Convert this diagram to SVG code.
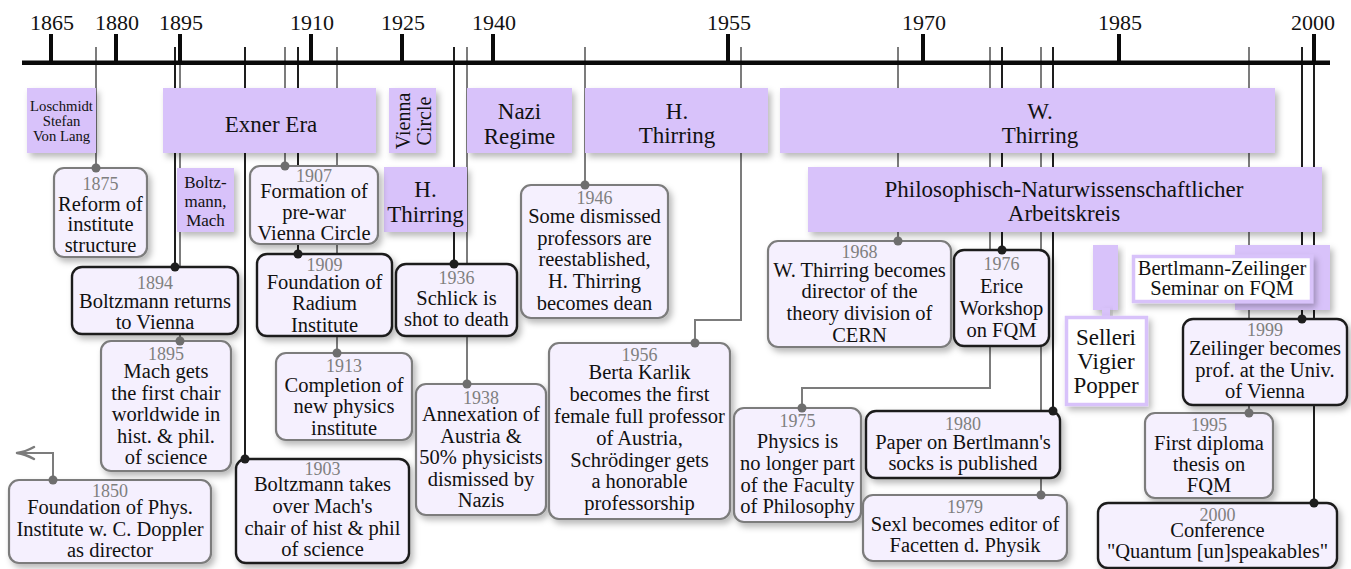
<svg xmlns="http://www.w3.org/2000/svg" width="1351" height="569" viewBox="0 0 1351 569">
<defs>
<filter id="sh" x="-30%" y="-30%" width="160%" height="160%">
<feDropShadow dx="3" dy="4" stdDeviation="3" flood-color="#000" flood-opacity="0.28"/>
</filter>
<marker id="arr" markerUnits="userSpaceOnUse" markerWidth="22" markerHeight="18" viewBox="-19 -9 22 18" refX="0" refY="0" orient="auto">
<path d="M -17 -6 Q -8 -1 0 0 Q -8 1 -17 6" fill="none" stroke="#7c7c7c" stroke-width="2.5" stroke-linecap="round" stroke-linejoin="round"/>
</marker>
<style>
.bar{fill:#d8c2fa;filter:url(#sh)}
.wb{fill:#ffffff;stroke:#d8c2fa;stroke-width:3.5;filter:url(#sh)}
.ev{fill:#f5f0fe;filter:url(#sh)}
.eg{stroke:#7c7c7c;stroke-width:2.2}
.ek{stroke:#1e1e1e;stroke-width:2.4}
text{font-family:"Liberation Serif",serif;text-anchor:middle;fill:#111}
.yr{font-size:18px;fill:#7f7f7f}
.tx{font-size:20.5px}
.bt{font-size:23px}
.vc{font-size:20px}
.sm{font-size:14.7px}
.bm{font-size:17px}
.ax{font-size:22px}
.lg{stroke:#7c7c7c;stroke-width:2;fill:none}
.lk{stroke:#1e1e1e;stroke-width:2;fill:none}
.dg{fill:#6e6e6e}
.dk{fill:#1e1e1e}
.axis{fill:#0a0a0a}
</style>
</defs>
<rect x="0" y="0" width="1351" height="569" fill="#ffffff"/>

<g id="connectors">
<path class="lg" d="M53 480V453H17" marker-end="url(#arr)"/>
<path class="lg" d="M96 47V168"/>
<path class="lk" d="M175 47V267"/>
<path class="lg" d="M180 47V341"/>
<path class="lk" d="M245 47V459"/>
<path class="lg" d="M285 47V166"/>
<path class="lk" d="M298 47V254"/>
<path class="lg" d="M337 47V353"/>
<path class="lk" d="M454 47V264"/>
<path class="lg" d="M467 47V384"/>
<path class="lg" d="M585 47V185"/>
<path class="lg" d="M741 47V320H695V343"/>
<path class="lg" d="M898 47V241"/>
<path class="lg" d="M990 47V388H802V408"/>
<path class="lk" d="M1002 47V250"/>
<path class="lg" d="M1041 47V495"/>
<path class="lk" d="M1053 47V411"/>
<path class="lg" d="M1249 47V413"/>
<path class="lk" d="M1302 47V319"/>
<path class="lk" d="M1314 47V503"/>
</g>

<g id="timeline">
<rect class="axis" x="22" y="60.5" width="1308" height="4.5"/>
<rect class="axis" x="49" y="34" width="4" height="28"/>
<rect class="axis" x="114" y="34" width="4" height="28"/>
<rect class="axis" x="178" y="34" width="4" height="28"/>
<rect class="axis" x="309" y="34" width="4" height="28"/>
<rect class="axis" x="400" y="34" width="4" height="28"/>
<rect class="axis" x="491" y="34" width="4" height="28"/>
<rect class="axis" x="726" y="34" width="4" height="28"/>
<rect class="axis" x="921" y="34" width="4" height="28"/>
<rect class="axis" x="1117" y="34" width="4" height="28"/>
<rect class="axis" x="1312" y="34" width="4" height="28"/>
<text class="ax" x="52" y="30">1865</text>
<text class="ax" x="117" y="30">1880</text>
<text class="ax" x="181" y="30">1895</text>
<text class="ax" x="312" y="30">1910</text>
<text class="ax" x="403" y="30">1925</text>
<text class="ax" x="494" y="30">1940</text>
<text class="ax" x="729" y="30">1955</text>
<text class="ax" x="924" y="30">1970</text>
<text class="ax" x="1120" y="30">1985</text>
<text class="ax" x="1313" y="30">2000</text>
</g>

<g id="period-loschmidt"><rect class="bar" x="27" y="88" width="69" height="65"/>
<text class="sm"><tspan x="61.5" y="111">Loschmidt</tspan><tspan x="61.5" y="126">Stefan</tspan><tspan x="61.5" y="141">Von Lang</tspan></text></g>
<g id="period-exner"><rect class="bar" x="163" y="88" width="213" height="65"/>
<text class="bt" x="271" y="132">Exner Era</text></g>
<g id="period-vienna-circle"><rect class="bar" x="389" y="88" width="47" height="65"/>
<text class="vc" transform="translate(410,121) rotate(-90)"><tspan x="0" y="0">Vienna</tspan><tspan x="0" y="21">Circle</tspan></text></g>
<g id="period-nazi"><rect class="bar" x="467" y="88" width="105" height="65"/>
<text class="bt"><tspan x="519.5" y="119.3">Nazi</tspan><tspan x="519.5" y="143.5">Regime</tspan></text></g>
<g id="period-h-thirring"><rect class="bar" x="585" y="88" width="183" height="65"/>
<text class="bt"><tspan x="677" y="119">H.</tspan><tspan x="677" y="142.5">Thirring</tspan></text></g>
<g id="period-w-thirring"><rect class="bar" x="780" y="88" width="495" height="65"/>
<text class="bt"><tspan x="1040" y="119">W.</tspan><tspan x="1040" y="142.5">Thirring</tspan></text></g>
<g id="period-arbeitskreis"><rect class="bar" x="808" y="167" width="514" height="65"/>
<text class="bt"><tspan x="1064" y="197">Philosophisch-Naturwissenschaftlicher</tspan><tspan x="1064" y="220.5">Arbeitskreis</tspan></text></g>
<g id="period-boltzmann-mach"><rect class="bar" x="177" y="168" width="57" height="64"/>
<text class="bm"><tspan x="205.5" y="188">Boltz-</tspan><tspan x="205.5" y="207">mann,</tspan><tspan x="205.5" y="226">Mach</tspan></text></g>
<g id="period-h-thirring-2"><rect class="bar" x="384" y="167" width="83" height="65"/>
<text class="bt"><tspan x="425.5" y="197">H.</tspan><tspan x="425.5" y="221.5">Thirring</tspan></text></g>
<g id="period-selleri"><rect class="bar" x="1093" y="245" width="25" height="65"/><rect class="bar" x="1102" y="308" width="8" height="10"/>
<rect class="wb" x="1066.5" y="317.5" width="80" height="87"/>
<text class="bt"><tspan x="1106" y="345">Selleri</tspan><tspan x="1106" y="368.5">Vigier</tspan><tspan x="1106" y="393">Popper</tspan></text></g>
<g id="period-bertlmann-zeilinger"><rect class="bar" x="1235" y="245" width="95" height="65"/>
<rect class="wb" x="1133.5" y="256.5" width="178" height="45"/>
<text style="font-size:20.5px"><tspan x="1222" y="275">Bertlmann-Zeilinger</tspan><tspan x="1222" y="295">Seminar on FQM</tspan></text></g>

<g id="ev1850"><rect class="ev eg" x="9" y="480" width="202" height="83" rx="10"/>
<text class="yr" x="110" y="497">1850</text>
<text class="tx"><tspan x="110" y="514">Foundation of Phys.</tspan><tspan x="110" y="536">Institute w. C. Doppler</tspan><tspan x="110" y="557">as director</tspan></text></g>
<g id="ev1875"><rect class="ev eg" x="54" y="168" width="93" height="89" rx="10"/>
<text class="yr" x="100.5" y="190">1875</text>
<text class="tx"><tspan x="100.5" y="210.5">Reform of</tspan><tspan x="100.5" y="231">institute</tspan><tspan x="100.5" y="252">structure</tspan></text></g>
<g id="ev1894"><rect class="ev ek" x="72" y="267" width="166" height="67" rx="10"/>
<text class="yr" x="155" y="289">1894</text>
<text class="tx"><tspan x="155" y="308">Boltzmann returns</tspan><tspan x="155" y="328.5">to Vienna</tspan></text></g>
<g id="ev1895"><rect class="ev eg" x="101" y="341" width="130" height="130" rx="10"/>
<text class="yr" x="166" y="360">1895</text>
<text class="tx"><tspan x="166" y="378">Mach gets</tspan><tspan x="166" y="399.5">the first chair</tspan><tspan x="166" y="421">worldwide in</tspan><tspan x="166" y="443">hist. &amp; phil.</tspan><tspan x="166" y="464">of science</tspan></text></g>
<g id="ev1903"><rect class="ev ek" x="236" y="459" width="173" height="104" rx="10"/>
<text class="yr" x="322.5" y="475">1903</text>
<text class="tx"><tspan x="322.5" y="491">Boltzmann takes</tspan><tspan x="322.5" y="513">over Mach's</tspan><tspan x="322.5" y="535">chair of hist &amp; phil</tspan><tspan x="322.5" y="556">of science</tspan></text></g>
<g id="ev1907"><rect class="ev eg" x="250" y="166" width="128" height="78" rx="10"/>
<text class="yr" x="314" y="182">1907</text>
<text class="tx"><tspan x="314" y="197.5">Formation of</tspan><tspan x="314" y="218.5">pre-war</tspan><tspan x="314" y="239.5">Vienna Circle</tspan></text></g>
<g id="ev1909"><rect class="ev ek" x="257" y="254" width="135" height="82" rx="10"/>
<text class="yr" x="324.5" y="271">1909</text>
<text class="tx"><tspan x="324.5" y="288.5">Foundation of</tspan><tspan x="324.5" y="310">Radium</tspan><tspan x="324.5" y="331.5">Institute</tspan></text></g>
<g id="ev1913"><rect class="ev eg" x="276" y="353" width="136" height="87" rx="10"/>
<text class="yr" x="344" y="372">1913</text>
<text class="tx"><tspan x="344" y="391.5">Completion of</tspan><tspan x="344" y="413">new physics</tspan><tspan x="344" y="435">institute</tspan></text></g>
<g id="ev1936"><rect class="ev ek" x="396" y="264" width="121" height="72" rx="10"/>
<text class="yr" x="456.5" y="284">1936</text>
<text class="tx"><tspan x="456.5" y="305">Schlick is</tspan><tspan x="456.5" y="326">shot to death</tspan></text></g>
<g id="ev1938"><rect class="ev eg" x="416" y="384" width="130" height="131" rx="10"/>
<text class="yr" x="481" y="404">1938</text>
<text class="tx"><tspan x="481" y="420.7">Annexation of</tspan><tspan x="481" y="442.7">Austria &amp;</tspan><tspan x="481" y="464.3">50% physicists</tspan><tspan x="481" y="486">dismissed by</tspan><tspan x="481" y="507.3">Nazis</tspan></text></g>
<g id="ev1946"><rect class="ev eg" x="521" y="185" width="147" height="133" rx="10"/>
<text class="yr" x="594.5" y="204">1946</text>
<text class="tx"><tspan x="594.5" y="223">Some dismissed</tspan><tspan x="594.5" y="244.5">professors are</tspan><tspan x="594.5" y="266">reestablished,</tspan><tspan x="594.5" y="288">H. Thirring</tspan><tspan x="594.5" y="310">becomes dean</tspan></text></g>
<g id="ev1956"><rect class="ev eg" x="549" y="343" width="181" height="176" rx="10"/>
<text class="yr" x="639.5" y="361">1956</text>
<text class="tx"><tspan x="639.5" y="379">Berta Karlik</tspan><tspan x="639.5" y="401">becomes the first</tspan><tspan x="639.5" y="423">female full professor</tspan><tspan x="639.5" y="445">of Austria,</tspan><tspan x="639.5" y="467">Schr&#246;dinger gets</tspan><tspan x="639.5" y="488">a honorable</tspan><tspan x="639.5" y="510">professorship</tspan></text></g>
<g id="ev1968"><rect class="ev eg" x="768" y="241" width="183" height="106" rx="10"/>
<text class="yr" x="859.5" y="258">1968</text>
<text class="tx"><tspan x="859.5" y="276.7">W. Thirring becomes</tspan><tspan x="859.5" y="298.3">director of the</tspan><tspan x="859.5" y="320">theory division of</tspan><tspan x="859.5" y="341.7">CERN</tspan></text></g>
<g id="ev1975"><rect class="ev eg" x="734" y="408" width="127" height="114" rx="10"/>
<text class="yr" x="797.5" y="427">1975</text>
<text class="tx"><tspan x="797.5" y="448.3">Physics is</tspan><tspan x="797.5" y="470">no longer part</tspan><tspan x="797.5" y="491.7">of the Faculty</tspan><tspan x="797.5" y="512.7">of Philosophy</tspan></text></g>
<g id="ev1976"><rect class="ev ek" x="954" y="250" width="95" height="96" rx="10"/>
<text class="yr" x="1001.5" y="270">1976</text>
<text class="tx"><tspan x="1001.5" y="293.3">Erice</tspan><tspan x="1001.5" y="315">Workshop</tspan><tspan x="1001.5" y="336.7">on FQM</tspan></text></g>
<g id="ev1979"><rect class="ev eg" x="863" y="495" width="204" height="66" rx="10"/>
<text class="yr" x="965" y="513">1979</text>
<text class="tx"><tspan x="965" y="530.5">Sexl becomes editor of</tspan><tspan x="965" y="552">Facetten d. Physik</tspan></text></g>
<g id="ev1980"><rect class="ev ek" x="866" y="411" width="194" height="67" rx="10"/>
<text class="yr" x="963" y="430">1980</text>
<text class="tx"><tspan x="963" y="449.3">Paper on Bertlmann's</tspan><tspan x="963" y="470">socks is published</tspan></text></g>
<g id="ev1995"><rect class="ev eg" x="1145" y="413" width="128" height="85" rx="10"/>
<text class="yr" x="1209" y="431">1995</text>
<text class="tx"><tspan x="1209" y="450">First diploma</tspan><tspan x="1209" y="470.5">thesis on</tspan><tspan x="1209" y="491.7">FQM</tspan></text></g>
<g id="ev1999"><rect class="ev ek" x="1183" y="319" width="164" height="86" rx="10"/>
<text class="yr" x="1265" y="336">1999</text>
<text class="tx"><tspan x="1265" y="355">Zeilinger becomes</tspan><tspan x="1265" y="376.5">prof. at the Univ.</tspan><tspan x="1265" y="398.3">of Vienna</tspan></text></g>
<g id="ev2000"><rect class="ev ek" x="1098" y="503" width="239" height="65" rx="10"/>
<text class="yr" x="1217.5" y="520.5">2000</text>
<text class="tx"><tspan x="1217.5" y="537">Conference</tspan><tspan x="1217.5" y="557.5">"Quantum [un]speakables"</tspan></text></g>

<g id="connector-ends">
<circle class="dg" cx="53" cy="480" r="4.5"/>
<circle class="dg" cx="96" cy="168" r="4.5"/>
<circle class="dk" cx="175" cy="267" r="4.5"/>
<circle class="dg" cx="180" cy="341" r="4.5"/>
<circle class="dk" cx="245" cy="459" r="4.5"/>
<circle class="dg" cx="285" cy="166" r="4.5"/>
<circle class="dk" cx="298" cy="254" r="4.5"/>
<circle class="dg" cx="337" cy="353" r="4.5"/>
<circle class="dk" cx="454" cy="264" r="4.5"/>
<circle class="dg" cx="467" cy="384" r="4.5"/>
<circle class="dg" cx="585" cy="185" r="4.5"/>
<circle class="dg" cx="695" cy="343" r="4.5"/>
<circle class="dg" cx="898" cy="241" r="4.5"/>
<circle class="dg" cx="802" cy="408" r="4.5"/>
<circle class="dk" cx="1002" cy="250" r="4.5"/>
<circle class="dg" cx="1041" cy="495" r="4.5"/>
<circle class="dk" cx="1053" cy="411" r="4.5"/>
<circle class="dg" cx="1249" cy="413" r="4.5"/>
<circle class="dk" cx="1302" cy="319" r="4.5"/>
<circle class="dk" cx="1314" cy="503" r="4.5"/>
</g>
</svg>
